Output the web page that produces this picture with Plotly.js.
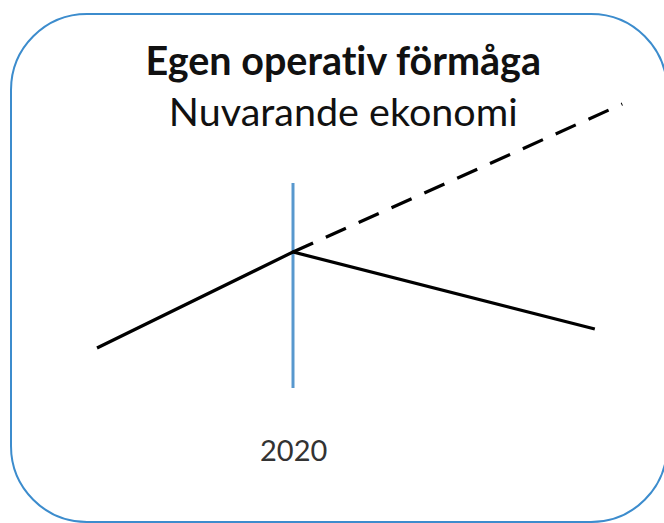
<!DOCTYPE html>
<html>
<head>
<meta charset="utf-8">
<script src="https://cdn.plot.ly/plotly-3.0.1.min.js"></script>
<style>html,body{margin:0;padding:0;background:#fff;}#chart{width:664px;height:523px;}
#chart text{font-variant-ligatures:none;font-feature-settings:"liga" 0;}</style>
</head>
<body>
<div id="chart"></div>
<script>
// Data
const solidYears = [2010, 2020, 2035.4];
const solidValues = [175, 271, 194];
const dashedYears = [2020, 2036.8];
const dashedValues = [271, 419];
const markerYear = [2020, 2020];
const markerValues = [135, 340];
const markerLabel = '2020';
const titleText = 'Egen operativ förmåga';
const subtitleText = 'Nuvarande ekonomi';

const W = 664, H = 523;
// rounded border built in pixel space, converted to paper coords
function px(x){return (x / W).toFixed(5);}
function py(y){return (1 - y / H).toFixed(5);}
function roundedRect(x0, y0, x1, y1, r){
  const k = 0.5523 * r;
  return 'M' + px(x0 + r) + ',' + py(y0) +
    ' L' + px(x1 - r) + ',' + py(y0) +
    ' C' + px(x1 - r + k) + ',' + py(y0) + ' ' + px(x1) + ',' + py(y0 + r - k) + ' ' + px(x1) + ',' + py(y0 + r) +
    ' L' + px(x1) + ',' + py(y1 - r) +
    ' C' + px(x1) + ',' + py(y1 - r + k) + ' ' + px(x1 - r + k) + ',' + py(y1) + ' ' + px(x1 - r) + ',' + py(y1) +
    ' L' + px(x0 + r) + ',' + py(y1) +
    ' C' + px(x0 + r - k) + ',' + py(y1) + ' ' + px(x0) + ',' + py(y1 - r + k) + ' ' + px(x0) + ',' + py(y1 - r) +
    ' L' + px(x0) + ',' + py(y0 + r) +
    ' C' + px(x0) + ',' + py(y0 + r - k) + ' ' + px(x0 + r - k) + ',' + py(y0) + ' ' + px(x0 + r) + ',' + py(y0) + ' Z';
}

const traces = [
  {x: markerYear, y: markerValues, mode: 'lines', line: {color: 'rgb(88,152,206)', width: 3}, hoverinfo: 'skip'},
  {x: solidYears, y: solidValues, mode: 'lines', line: {color: '#000', width: 3.2}, hoverinfo: 'skip'},
  {x: dashedYears, y: dashedValues, mode: 'lines', line: {color: '#000', width: 3.2, dash: '22px,14px'}, hoverinfo: 'skip'}
];

const layout = {
  width: W, height: H,
  margin: {l: 0, r: 0, t: 0, b: 0},
  paper_bgcolor: '#fff', plot_bgcolor: '#fff',
  showlegend: false,
  xaxis: {range: [2005.05, 2038.93], visible: false, fixedrange: true},
  yaxis: {range: [0, 523], visible: false, fixedrange: true},
  title: {
    text: '<b>' + titleText + '</b><br>' + subtitleText,
    font: {family: 'Lato, "Open Sans", sans-serif', size: 39.5, color: '#111'},
    x: 0.517, xanchor: 'center', y: 1 - 75 / H, yanchor: 'top'
  },
  annotations: [
    {x: markerYear[0], y: 74, xref: 'x', yref: 'y', text: markerLabel, showarrow: false,
     font: {family: 'Lato, "Open Sans", sans-serif', size: 29, color: '#333'}, xanchor: 'center', yanchor: 'middle'}
  ],
  shapes: [
    {type: 'path', xref: 'paper', yref: 'paper', path: roundedRect(11, 14, 667, 522, 76),
     line: {color: 'rgb(60,140,205)', width: 2}, fillcolor: 'rgba(0,0,0,0)', layer: 'below'}
  ]
};

Plotly.newPlot('chart', traces, layout, {displayModeBar: false, staticPlot: true});
</script>
</body>
</html>
